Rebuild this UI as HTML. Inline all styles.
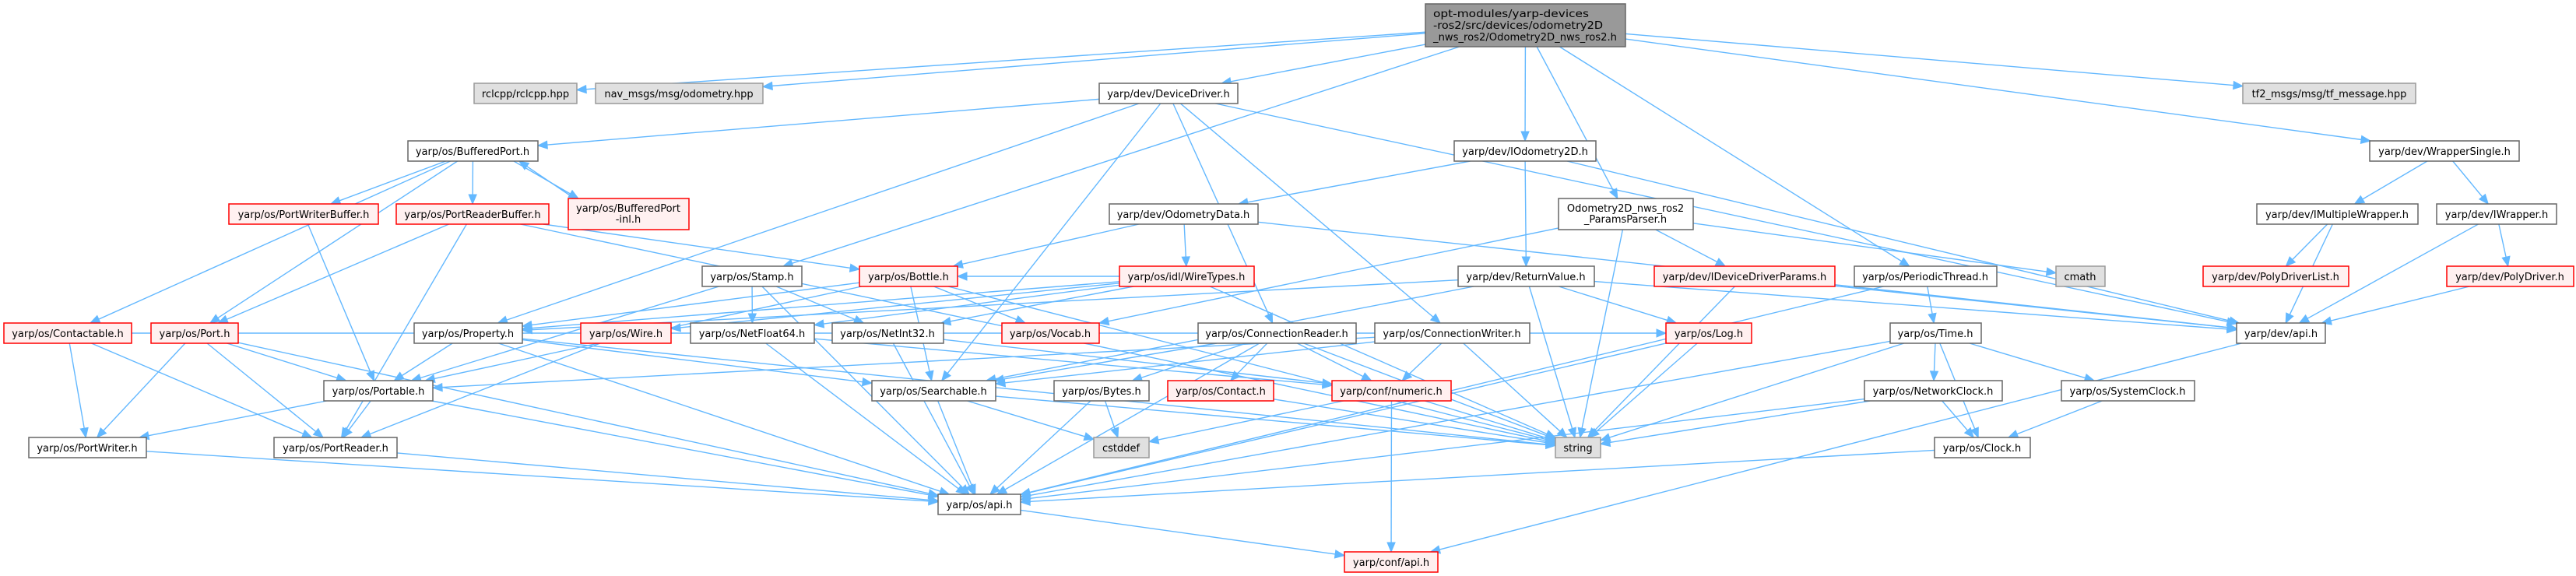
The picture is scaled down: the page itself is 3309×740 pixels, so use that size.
<!DOCTYPE html>
<html><head><meta charset="utf-8">
<style>
html,body{margin:0;padding:0;background:#fff;}
svg{display:block;}
text{font-family:"DejaVu Sans","Liberation Sans",sans-serif;font-size:13px;fill:#000;}
</style></head>
<body>
<svg id="g" width="3309" height="740" viewBox="0 0 3309 740" xmlns="http://www.w3.org/2000/svg">
<g id="edges"></g>
<g id="nodes">
<rect x="1831" y="5" width="257" height="55" fill="#999" stroke="#666" stroke-width="1.5"/>
<text x="1841" y="22" textLength="200" lengthAdjust="spacingAndGlyphs">opt-modules/yarp-devices</text>
<text x="1841" y="37" textLength="218" lengthAdjust="spacingAndGlyphs">-ros2/src/devices/odometry2D</text>
<text x="1841" y="52" textLength="236" lengthAdjust="spacingAndGlyphs">_nws_ros2/Odometry2D_nws_ros2.h</text>
</g>
</svg>
<script>
var N={
rclcpp:[609,741,107,133,'g',['rclcpp/rclcpp.hpp']],
nav:[765,980,107,133,'g',['nav_msgs/msg/odometry.hpp']],
dd:[1412,1590,107,133,'w',['yarp/dev/DeviceDriver.h']],
tf2:[2881,3103,107,133,'g',['tf2_msgs/msg/tf_message.hpp']],
bp:[524,691,181,207,'w',['yarp/os/BufferedPort.h']],
iodo:[1868,2050,181,207,'w',['yarp/dev/IOdometry2D.h']],
ws:[3044,3236,181,207,'w',['yarp/dev/WrapperSingle.h']],
pwb:[294,486,262,288,'r',['yarp/os/PortWriterBuffer.h']],
prb:[509,705,262,288,'r',['yarp/os/PortReaderBuffer.h']],
bpi:[730,885,255,295,'r',['yarp/os/BufferedPort','-inl.h']],
od:[1425,1616,262,288,'w',['yarp/dev/OdometryData.h']],
pp:[2002,2175,255,295,'w',['Odometry2D_nws_ros2','_ParamsParser.h']],
imw:[2899,3106,262,288,'w',['yarp/dev/IMultipleWrapper.h']],
iw:[3130,3284,262,288,'w',['yarp/dev/IWrapper.h']],
stamp:[902,1030,342,368,'w',['yarp/os/Stamp.h']],
bottle:[1104,1230,342,368,'r',['yarp/os/Bottle.h']],
wt:[1438,1611,342,368,'r',['yarp/os/idl/WireTypes.h']],
rv:[1873,2048,342,368,'w',['yarp/dev/ReturnValue.h']],
iddp:[2125,2357,342,368,'r',['yarp/dev/IDeviceDriverParams.h']],
pt:[2382,2565,342,368,'w',['yarp/os/PeriodicThread.h']],
cmath:[2641,2704,342,368,'g',['cmath']],
pdl:[2830,3017,342,368,'r',['yarp/dev/PolyDriverList.h']],
pd:[3143,3306,342,368,'r',['yarp/dev/PolyDriver.h']],
cont:[5,169,415,441,'r',['yarp/os/Contactable.h']],
port:[194,306,415,441,'r',['yarp/os/Port.h']],
prop:[532,671,415,441,'w',['yarp/os/Property.h']],
wire:[746,862,415,441,'r',['yarp/os/Wire.h']],
nf64:[887,1046,415,441,'w',['yarp/os/NetFloat64.h']],
ni32:[1069,1212,415,441,'w',['yarp/os/NetInt32.h']],
vocab:[1287,1412,415,441,'r',['yarp/os/Vocab.h']],
cr:[1539,1742,415,441,'w',['yarp/os/ConnectionReader.h']],
cw:[1766,1965,415,441,'w',['yarp/os/ConnectionWriter.h']],
log:[2140,2250,415,441,'r',['yarp/os/Log.h']],
time:[2428,2545,415,441,'w',['yarp/os/Time.h']],
devapi:[2873,2987,415,441,'w',['yarp/dev/api.h']],
portable:[416,556,489,515,'w',['yarp/os/Portable.h']],
search:[1120,1279,489,515,'w',['yarp/os/Searchable.h']],
bytes:[1354,1476,489,515,'w',['yarp/os/Bytes.h']],
contact:[1500,1636,489,515,'r',['yarp/os/Contact.h']],
numeric:[1711,1864,489,515,'r',['yarp/conf/numeric.h']],
nclock:[2395,2572,489,515,'w',['yarp/os/NetworkClock.h']],
sclock:[2648,2819,489,515,'w',['yarp/os/SystemClock.h']],
pw:[37,188,562,588,'w',['yarp/os/PortWriter.h']],
pr:[352,510,562,588,'w',['yarp/os/PortReader.h']],
cstddef:[1405,1476,562,588,'g',['cstddef']],
string:[1998,2056,562,588,'g',['string']],
clock:[2485,2608,562,588,'w',['yarp/os/Clock.h']],
osapi:[1205,1311,635,661,'w',['yarp/os/api.h']],
confapi:[1727,1847,709,735,'r',['yarp/conf/api.h']],
main:[1831,2088,5,60,'m',[]]
};
var E=[
['main','rclcpp'],['main','nav'],['main','dd'],['main','stamp'],['main','iodo'],['main','pp'],['main','pt'],['main','tf2'],['main','ws'],
['dd','bp'],['dd','prop'],['dd','search'],['dd','cr'],['dd','devapi'],['dd','cw'],
['bp','cont'],['bp','port'],['bp','pwb'],['bp','prb'],['bp','bpi'],['bpi','bp'],
['prb','port'],['prb','pr'],['prb','bottle'],['prb','string'],
['pwb','portable'],
['cont','pw'],['cont','pr'],['cont','log'],
['port','pw'],['port','pr'],['port','portable'],['port','osapi'],
['portable','pw'],['portable','pr'],['portable','osapi'],
['prop','portable'],['prop','search'],['prop','string'],['prop','osapi'],
['wire','pr'],
['nf64','osapi'],['nf64','numeric'],
['ni32','osapi'],['ni32','numeric'],
['stamp','portable'],['stamp','ni32'],['stamp','nf64'],['stamp','osapi'],
['bottle','prop'],['bottle','portable'],['bottle','search'],['bottle','vocab'],['bottle','string'],
['wt','prop'],['wt','wire'],['wt','ni32'],['wt','string'],['wt','bottle'],['wt','nf64'],
['iodo','od'],['iodo','rv'],['iodo','devapi'],
['od','wt'],['od','bottle'],['od','devapi'],
['pp','iddp'],['pp','string'],['pp','cmath'],['pp','vocab'],
['rv','log'],['rv','string'],['rv','devapi'],['rv','prop'],['rv','search'],
['cr','search'],['cr','bytes'],['cr','contact'],['cr','numeric'],['cr','string'],['cr','osapi'],
['cw','portable'],['cw','numeric'],['cw','string'],['cw','search'],
['search','osapi'],['search','cstddef'],['search','string'],
['bytes','cstddef'],['bytes','osapi'],
['contact','string'],
['numeric','cstddef'],['numeric','confapi'],['numeric','string'],
['osapi','confapi'],
['iddp','string'],['iddp','devapi'],
['pt','time'],['pt','osapi'],
['time','nclock'],['time','sclock'],['time','clock'],['time','string'],['time','osapi'],
['nclock','clock'],['nclock','string'],['nclock','osapi'],
['sclock','clock'],['clock','osapi'],
['log','osapi'],['log','string'],
['ws','imw'],['ws','iw'],
['imw','pdl'],['imw','devapi'],
['iw','pd'],['iw','devapi'],
['pd','devapi'],
['devapi','confapi'],
['pw','osapi'],['pr','osapi']
];
var NS='http://www.w3.org/2000/svg';
var eg=document.getElementById('edges'),ng=document.getElementById('nodes');
function el(t,a,p){var e=document.createElementNS(NS,t);for(var k in a)e.setAttribute(k,a[k]);p.appendChild(e);return e;}
var st={w:['#fff','#666'],r:['#fff0f0','#ff0000'],g:['#e0e0e0','#999'],m:['#999','#666']};
for(var id in N){var n=N[id];if(n[4]=='m')continue;
 el('rect',{x:n[0],y:n[2],width:n[1]-n[0],height:n[3]-n[2],fill:st[n[4]][0],stroke:st[n[4]][1],'stroke-width':1.5},ng);}
function clip(n,cx,cy,tx,ty){var hw=(n[1]-n[0])/2,hh=(n[3]-n[2])/2,dx=tx-cx,dy=ty-cy;
 var s=Math.min(dx?hw/Math.abs(dx):1e9,dy?hh/Math.abs(dy):1e9);return [cx+dx*s,cy+dy*s];}
E.forEach(function(e){var a=N[e[0]],b=N[e[1]];
 var ax=(a[0]+a[1])/2,ay=(a[2]+a[3])/2,bx=(b[0]+b[1])/2,by=(b[2]+b[3])/2;
 if(e[0]=='bpi'){ax-=40;bx+=40;} if(e[0]=='bp'&&e[1]=='bpi'){ax+=30;bx-=30;}
 var p=clip(a,ax,ay,bx,by),q=clip(b,bx,by,ax,ay);
 var dx=q[0]-p[0],dy=q[1]-p[1],L=Math.sqrt(dx*dx+dy*dy),ux=dx/L,uy=dy/L;
 var ex=q[0]-ux*12,ey=q[1]-uy*12;
 el('line',{x1:p[0],y1:p[1],x2:ex,y2:ey,stroke:'#63b8ff','stroke-width':1.4},eg);
 el('polygon',{points:q[0]+','+q[1]+' '+(ex-uy*5)+','+(ey+ux*5)+' '+(ex+uy*5)+','+(ey-ux*5),fill:'#63b8ff',stroke:'#63b8ff'},eg);
});
</script>
<svg style="position:absolute;left:0;top:0" width="3309" height="740" viewBox="0 0 3309 740" xmlns="http://www.w3.org/2000/svg">
<g text-anchor="middle">
<text x="675" y="125">rclcpp/rclcpp.hpp</text>
<text x="872" y="125">nav_msgs/msg/odometry.hpp</text>
<text x="1501" y="125">yarp/dev/DeviceDriver.h</text>
<text x="2992" y="125">tf2_msgs/msg/tf_message.hpp</text>
<text x="607" y="199">yarp/os/BufferedPort.h</text>
<text x="1959" y="199">yarp/dev/IOdometry2D.h</text>
<text x="3140" y="199">yarp/dev/WrapperSingle.h</text>
<text x="390" y="280">yarp/os/PortWriterBuffer.h</text>
<text x="607" y="280">yarp/os/PortReaderBuffer.h</text>
<text x="807" y="272">yarp/os/BufferedPort</text>
<text x="807" y="286">-inl.h</text>
<text x="1520" y="280">yarp/dev/OdometryData.h</text>
<text x="2088" y="272">Odometry2D_nws_ros2</text>
<text x="2088" y="286">_ParamsParser.h</text>
<text x="3002" y="280">yarp/dev/IMultipleWrapper.h</text>
<text x="3207" y="280">yarp/dev/IWrapper.h</text>
<text x="966" y="360">yarp/os/Stamp.h</text>
<text x="1167" y="360">yarp/os/Bottle.h</text>
<text x="1524" y="360">yarp/os/idl/WireTypes.h</text>
<text x="1960" y="360">yarp/dev/ReturnValue.h</text>
<text x="2241" y="360">yarp/dev/IDeviceDriverParams.h</text>
<text x="2473" y="360">yarp/os/PeriodicThread.h</text>
<text x="2672" y="360">cmath</text>
<text x="2923" y="360">yarp/dev/PolyDriverList.h</text>
<text x="3224" y="360">yarp/dev/PolyDriver.h</text>
<text x="87" y="433">yarp/os/Contactable.h</text>
<text x="250" y="433">yarp/os/Port.h</text>
<text x="601" y="433">yarp/os/Property.h</text>
<text x="804" y="433">yarp/os/Wire.h</text>
<text x="966" y="433">yarp/os/NetFloat64.h</text>
<text x="1140" y="433">yarp/os/NetInt32.h</text>
<text x="1349" y="433">yarp/os/Vocab.h</text>
<text x="1640" y="433">yarp/os/ConnectionReader.h</text>
<text x="1865" y="433">yarp/os/ConnectionWriter.h</text>
<text x="2195" y="433">yarp/os/Log.h</text>
<text x="2486" y="433">yarp/os/Time.h</text>
<text x="2930" y="433">yarp/dev/api.h</text>
<text x="486" y="507">yarp/os/Portable.h</text>
<text x="1199" y="507">yarp/os/Searchable.h</text>
<text x="1415" y="507">yarp/os/Bytes.h</text>
<text x="1568" y="507">yarp/os/Contact.h</text>
<text x="1787" y="507">yarp/conf/numeric.h</text>
<text x="2483" y="507">yarp/os/NetworkClock.h</text>
<text x="2733" y="507">yarp/os/SystemClock.h</text>
<text x="112" y="580">yarp/os/PortWriter.h</text>
<text x="431" y="580">yarp/os/PortReader.h</text>
<text x="1440" y="580">cstddef</text>
<text x="2027" y="580">string</text>
<text x="2546" y="580">yarp/os/Clock.h</text>
<text x="1258" y="653">yarp/os/api.h</text>
<text x="1787" y="727">yarp/conf/api.h</text>
</g>
</svg>
</body></html>
